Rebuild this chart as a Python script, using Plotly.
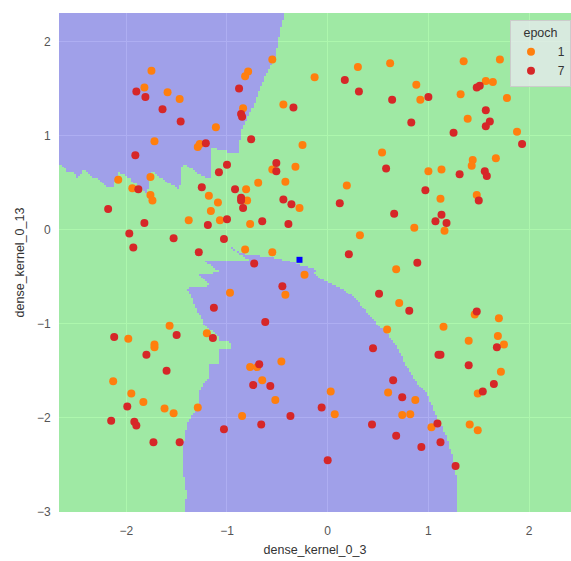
import numpy as np
import plotly.graph_objects as go

# ---------------- data ----------------
epoch1_x = [-1.75, -1.82, -1.59, -1.47, -1.11, -1.72, -1.29, -1.27, -0.55, -0.79, -0.82, -0.84, -0.44,
            -2.08, -1.76, -1.94, -1.76, -1.74, -1.38, -1.18, -1.09, -1.16, -1.07, -0.81, -0.80, -0.77,
            -0.69, -0.82, -0.55, -0.55, -0.32, -0.42,
            -0.13, 0.30, 0.62, 0.88, 0.92, 1.35, 1.71, 1.32, 1.57, 1.64, 1.78, 1.39, 1.88, -0.25, 0.54,
            0.19, -0.28, 0.32, 0.68, 0.86, 1.00, 1.13, 1.12, 1.16, 1.44, 1.43, 1.67, 1.48, -0.23,
            -0.42, 0.71, 0.59, 1.15, -0.46, 0.60, 0.87, 0.03, 0.07, 0.74, 0.82, 1.03, 1.46, 1.70, 1.40,
            1.69, 1.75, 1.72, 1.49, 1.41, 1.49,
            -0.97, -1.57, -1.20, -1.98, -1.72, -1.72, -2.13, -1.95, -1.83, -1.62, -1.53, -1.29, -0.77,
            -0.70, -0.65, -0.52, -0.85]
epoch1_y = [1.69, 1.51, 1.46, 1.39, 1.09, 0.94, 0.88, 0.91, 1.81, 1.68, 1.63, 1.29, 1.33,
            0.53, 0.56, 0.44, 0.37, 0.31, 0.10, 0.36, 0.29, 0.20, 0.10, 0.43, 0.31, 0.06,
            0.50, -0.21, -0.24, 0.64, 0.67, 0.51,
            1.62, 1.73, 1.77, 1.54, 1.38, 1.79, 1.81, 1.44, 1.58, 1.57, 1.40, 1.18, 1.04, 0.90, 0.82,
            0.47, 0.23, -0.06, -0.42, 0.02, 0.62, 0.64, 0.33, -0.01, 0.74, 0.68, 0.76, 0.37, -0.48,
            -0.69, -0.78, -1.06, -1.03, -1.40, -1.73, -1.81, -1.72, -1.96, -1.97, -1.96, -2.10, -0.90,
            -0.94, -1.18, -1.13, -1.22, -1.51, -1.74, -2.07, -2.13,
            -0.67, -1.02, -1.10, -1.16, -1.22, -1.25, -1.61, -1.74, -1.83, -1.90, -1.95, -1.89, -1.46,
            -1.46, -1.60, -1.81, -1.98]

epoch7_x = [-1.90, -1.81, -1.64, -1.46, -1.91, -1.21, -0.88, -0.86, -0.85, -0.34, -0.76, -1.00, -1.08,
            -1.88, -2.18, -1.82, -1.97, -1.93, -1.53, -1.25, -1.19, -1.00, -1.03, -1.28, -0.92, -0.86,
            -0.86, -0.84, -0.65, -0.73, -0.51, -0.51, -0.44, -0.36, -0.39,
            0.17, 0.31, 0.64, 1.00, 0.83, 1.48, 1.51, 1.57, 1.61, 1.57, 1.25, 1.93, 0.58, 0.12, 0.66,
            0.21, 0.89, 0.97, 1.13, 1.07, 1.18, 1.31, 1.56, 1.58, 1.50,
            -0.45, 0.51, 0.81, 0.45, 0.65, 0.74, -0.06, -0.37, 0.44, 0.68, 1.09, 1.12, 0.93, 0.00, 1.27,
            1.48, 1.68, 1.10, 1.12, 1.40, 1.65, 1.54,
            -1.13, -0.62, -1.50, -1.14, -2.12, -1.80, -1.60, -1.99, -2.15, -1.92, -1.90, -1.73, -1.47,
            -0.68, -0.74, -0.57, -0.66, -1.03]
epoch7_y = [1.47, 1.41, 1.28, 1.15, 0.79, 0.92, 1.50, 1.23, 1.20, 1.30, 0.96, 0.69, 0.61,
            0.43, 0.22, 0.07, -0.04, -0.19, -0.09, 0.45, 0.05, 0.11, -0.10, -0.24, 0.43, 0.34,
            0.31, 0.23, 0.09, -0.36, 0.71, 0.62, 0.32, 0.27, 0.06,
            1.59, 1.47, 1.38, 1.41, 1.14, 1.51, 1.53, 1.27, 1.15, 1.10, 1.03, 0.91, 0.65, 0.28, 0.17,
            -0.26, -0.35, 0.42, 0.16, 0.09, 0.07, 0.59, 0.62, 0.57, 0.31,
            -0.60, -0.68, -0.86, -1.26, -1.60, -1.78, -1.89, -1.98, -2.07, -2.19, -2.06, -2.26, -2.31,
            -2.45, -2.51, -0.87, -1.25, -1.33, -1.33, -1.44, -1.64, -1.72,
            -0.83, -0.98, -1.12, -1.15, -1.14, -1.33, -1.50, -1.88, -2.03, -2.04, -2.08, -2.26, -2.26,
            -1.43, -1.65, -1.66, -2.07, -2.12]

highlight_x = [-0.28]
highlight_y = [-0.32]

legend_names = ["1", "7"]

# decision-region boundaries (class 0 = purple regions)
regionA_x = [-2.67, -0.434, -0.457, -0.481, -0.500, -0.523, -0.583, -0.640, -0.699, -0.739, -0.788,
             -0.838, -0.864, -0.878, -1.003, -1.003, -1.149, -1.164, -1.164, -1.212, -1.261, -1.311,
             -1.360, -1.410, -1.444, -1.460, -1.477, -1.494, -1.543, -1.609, -1.675, -1.725, -1.758,
             -1.775, -1.801, -1.824, -1.874, -1.924, -1.973, -2.023, -2.056, -2.072, -2.105, -2.122,
             -2.139, -2.189, -2.221, -2.271, -2.338, -2.387, -2.420, -2.453, -2.487, -2.519, -2.586,
             -2.619, -2.67]
regionA_y = [2.31, 2.31, 2.193, 2.087, 1.981, 1.838, 1.732, 1.591, 1.450, 1.307, 1.201,
             1.095, 1.006, 0.812, 0.812, 0.847, 0.868, 0.847, 0.539, 0.557, 0.581, 0.616,
             0.652, 0.688, 0.706, 0.528, 0.422, 0.440, 0.475, 0.510, 0.563, 0.616, 0.616,
             0.457, 0.393, 0.414, 0.457, 0.493, 0.546, 0.581, 0.606, 0.599, 0.510, 0.457,
             0.446, 0.457, 0.475, 0.536, 0.563, 0.616, 0.642, 0.581, 0.546, 0.599, 0.616,
             0.670, 0.695]

regionB_x = [-0.987, -0.937, -0.871, -0.804, -0.705, -0.606, -0.506, -0.407, -0.325, -0.242, -0.159,
             -0.109, -0.143, -0.109, -0.044, 0.056, 0.155, 0.254, 0.321, 0.437, 0.536, 0.619, 0.701,
             0.751, 0.817, 0.884, 0.983, 1.033, 1.082, 1.148, 1.198, 1.247, 1.274, 1.287, 1.287,
             -1.417, -1.417, -1.394, -1.417, -1.434, -1.434, -1.417, -1.394, -1.367, -1.335, -1.301,
             -1.275, -1.285, -1.251, -1.235, -1.186, -1.186, -1.169, -1.086, -1.076, -1.070, -0.960,
             -0.960, -0.997, -1.010, -1.070, -1.086, -1.119, -1.186, -1.228, -1.251, -1.285, -1.318,
             -1.335, -1.381, -1.400, -1.152, -1.268, -1.285, -1.070, -1.186, -1.218, -0.772, -0.888]
regionB_y = [-0.181, -0.205, -0.240, -0.269, -0.276, -0.287, -0.304, -0.333, -0.357, -0.393, -0.410,
             -0.428, -0.453, -0.499, -0.535, -0.588, -0.641, -0.715, -0.790, -0.942, -1.048, -1.154,
             -1.278, -1.403, -1.526, -1.632, -1.739, -1.881, -2.004, -2.129, -2.270, -2.447, -2.625,
             -2.997, -3.02, -3.02, -2.891, -2.854, -2.731, -2.589, -2.306, -2.164, -2.075, -2.004,
             -1.951, -1.898, -1.810, -1.739, -1.685, -1.632, -1.579, -1.509, -1.438, -1.427, -1.367,
             -1.278, -1.260, -1.225, -1.180, -1.190, -1.190, -1.137, -1.095, -1.058, -1.013, -0.942,
             -0.888, -0.818, -0.765, -0.659, -0.623, -0.595, -0.489, -0.474, -0.453, -0.365, -0.329,
             -0.329, -0.251]

x_range = [-2.668, 2.416]
y_range = [-3.0, 2.303]
x_ticks = [-2, -1, 0, 1, 2]
y_ticks = [-3, -2, -1, 0, 1, 2]
grid_step = 0.02


def inside(px, py, poly_x, poly_y):
    poly_x = np.asarray(poly_x, float)
    poly_y = np.asarray(poly_y, float)
    n = len(poly_x)
    res = np.zeros(px.shape, bool)
    j = n - 1
    for i in range(n):
        xi, yi, xj, yj = poly_x[i], poly_y[i], poly_x[j], poly_y[j]
        if yi != yj:
            cond = ((yi > py) != (yj > py)) & (px < (xj - xi) * (py - yi) / (yj - yi) + xi)
            res ^= cond
        j = i
    return res


gx = np.arange(x_range[0] - grid_step, x_range[1] + grid_step, grid_step)
gy = np.arange(y_range[0] - grid_step, y_range[1] + grid_step, grid_step)
GX, GY = np.meshgrid(gx, gy)
purple = inside(GX, GY, regionA_x, regionA_y) | inside(GX, GY, regionB_x, regionB_y)
Z = np.where(purple, 0, 1)

PURPLE = "rgb(6,6,214)"
GREEN = "rgb(3,231,0)"

fig = go.Figure()
fig.add_trace(go.Heatmap(
    x=gx, y=gy, z=Z, zmin=0, zmax=1,
    colorscale=[[0, PURPLE], [0.5, PURPLE], [0.5, GREEN], [1, GREEN]],
    showscale=False, opacity=0.32, hoverinfo="skip", zsmooth=False,
))
fig.add_trace(go.Scatter(
    x=epoch1_x, y=epoch1_y, mode="markers", name="\u2007" + legend_names[0],
    marker=dict(color="#ff7f0e", size=8, line=dict(width=0)),
))
fig.add_trace(go.Scatter(
    x=epoch7_x, y=epoch7_y, mode="markers", name="\u2007" + legend_names[1],
    marker=dict(color="#d62728", size=8, line=dict(width=0)),
))
fig.add_trace(go.Scatter(
    x=highlight_x, y=highlight_y, mode="markers", showlegend=False,
    marker=dict(color="#0000ff", size=6, symbol="square", line=dict(width=0)),
))

axis_common = dict(
    showgrid=True, gridcolor="white", gridwidth=1.2, zeroline=False, showline=False,
    ticks="outside", tickcolor="rgba(0,0,0,0)",
    tickfont=dict(size=12, color="#555555"),
    title_font=dict(size=12.5, color="#333333"),
)
fig.update_layout(
    width=571, height=561,
    margin=dict(l=59, r=0, t=13, b=49),
    paper_bgcolor="white", plot_bgcolor="#EAEAF2",
    font=dict(family="Liberation Sans, Arial, sans-serif", color="#333333"),
    xaxis=dict(range=x_range, tickvals=x_ticks, ticklen=8,
               title=dict(text="dense_kernel_0_3", standoff=7), **axis_common),
    yaxis=dict(range=y_range, tickvals=y_ticks, ticklen=5,
               title=dict(text="dense_kernel_0_13", standoff=9), **axis_common),
    legend=dict(
        title=dict(text="epoch", side="top center", font=dict(size=12.5, color="#333333")),
        x=1.0, y=0.986, xanchor="right", yanchor="top",
        bgcolor="rgba(234,234,242,0.75)", bordercolor="#cccccc", borderwidth=1,
        font=dict(size=12, color="#333333"),
    ),
    showlegend=True,
)
fig.write_html("out.html")
